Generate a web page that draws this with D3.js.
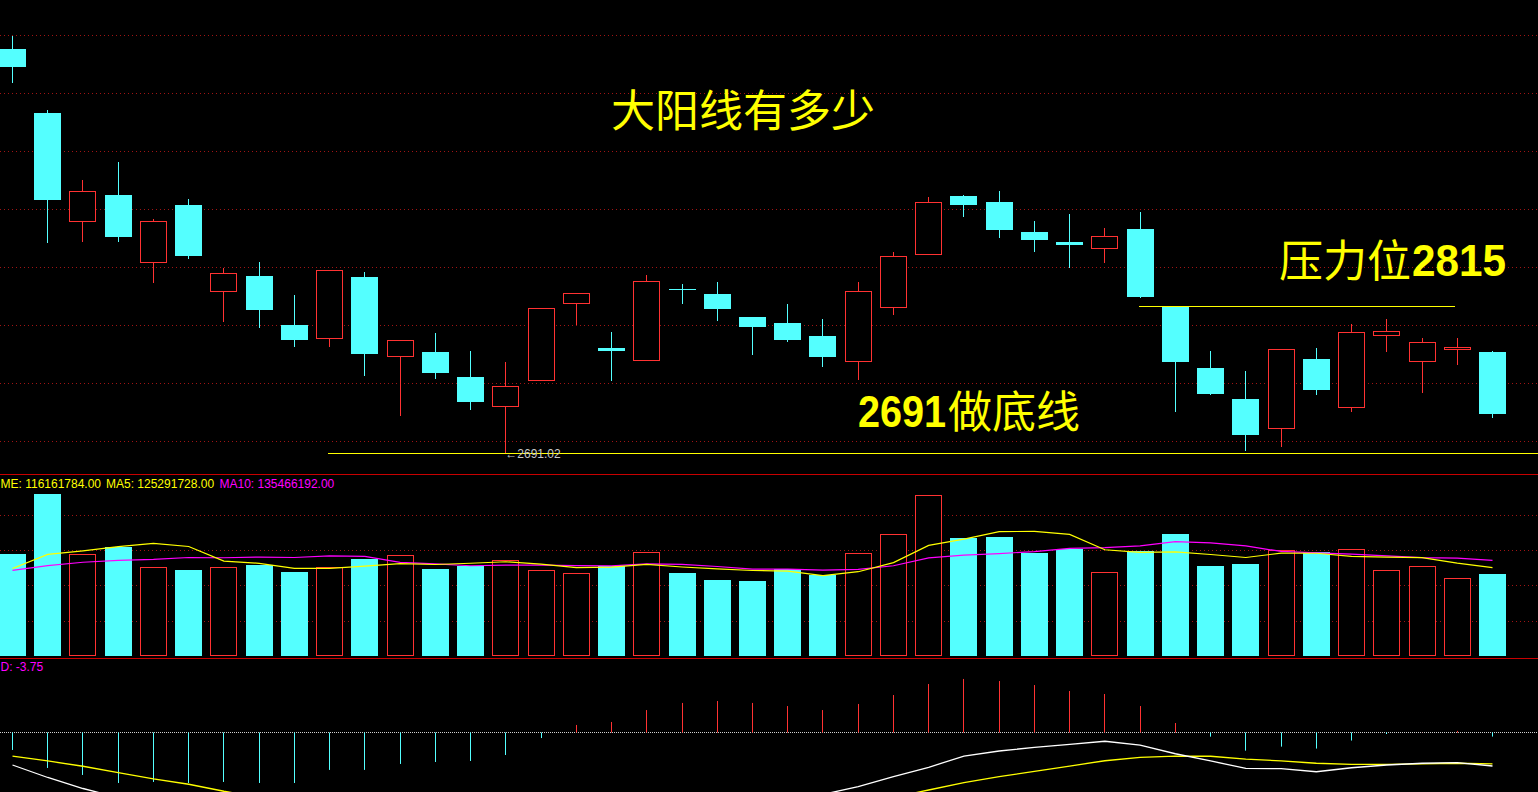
<!DOCTYPE html>
<html><head><meta charset="utf-8">
<script src="https://cdn.jsdelivr.net/npm/d3@7"></script>
<style>html,body{margin:0;padding:0;background:#000;overflow:hidden}</style>
</head><body>
<svg id="c" width="1538" height="792"></svg>
<script>
// ---------- data ----------
const opens  = [3031.3,2977.4,2886.3,2908.4,2852.3,2900.0,2827.9,2840.2,2799.0,2788.3,2839.4,2773.2,2776.3,2755.2,2731.1,2752.4,2817.8,2779.4,2769.8,2829.3,2825.1,2805.7,2800.7,2789.7,2768.9,2813.9,2859.0,2907.6,2902.5,2877.3,2868.9,2864.1,2879.8,2814.4,2762.8,2736.7,2712.0,2770.4,2729.7,2790.3,2768.4,2779.0,2776.3];
const highs  = [3042.2,2980.0,2921.0,2936.2,2888.2,2905.0,2847.2,2852.0,2824.2,2845.0,2843.6,2786.1,2792.3,2777.1,2767.8,2813.0,2825.7,2793.1,2841.1,2833.5,2835.2,2805.7,2816.7,2804.0,2835.2,2860.4,2906.7,2908.4,2911.8,2886.5,2892.4,2880.6,2894.1,2814.4,2777.1,2760.3,2778.5,2779.6,2799.8,2804.0,2788.0,2788.0,2777.1];
const lows   = [3003.8,2869.1,2869.9,2869.9,2835.4,2855.6,2802.6,2797.6,2781.6,2781.6,2757.2,2723.2,2754.6,2728.5,2691.02,2752.4,2800.1,2752.9,2769.8,2817.5,2803.2,2774.8,2785.8,2764.7,2753.5,2808.2,2859.0,2891.0,2873.1,2861.5,2847.8,2852.3,2822.8,2726.9,2741.2,2694.0,2697.4,2741.2,2726.9,2777.4,2742.8,2766.4,2721.8];
const closes = [3016.4,2904.2,2911.5,2873.1,2886.5,2857.1,2842.5,2811.6,2786.4,2845.0,2774.6,2786.1,2758.6,2734.2,2747.4,2813.0,2825.7,2777.1,2835.8,2828.7,2812.5,2797.3,2786.4,2772.1,2827.4,2856.8,2902.3,2900.2,2879.0,2870.8,2866.6,2873.6,2822.8,2768.1,2741.2,2706.7,2778.5,2744.5,2792.8,2793.9,2784.4,2780.5,2724.3];

const volumes = [144600000,229900000,144200000,154600000,125700000,121800000,125700000,129000000,119000000,125700000,
                 137500000,142700000,123300000,128000000,136100000,121400000,117200000,127100000,147000000,117600000,
                 107600000,106200000,122800000,114700000,145600000,172600000,228100000,167300000,168800000,146400000,
                 151700000,118600000,148400000,173003280,127500000,130400000,149900000,147400000,151300000,121400000,
                 127100000,110496856,116161784];
// sessions before the first visible one (only feed the moving averages)
const prevVolumes = [163900000,96200000,126600000,111700000,95600000,129900000,119200000,124600000,101700000];

const macdHist = [-15.4,-31.1,-37.2,-44.2,-43.3,-44.2,-43.3,-44.2,-44.2,-32.8,-32.8,-27.6,-25.9,-25.0,-19.8,-5.0,6.4,9.0,19.4,25.6,27.3,25.6,22.9,19.4,24.7,32.5,42.1,46.5,44.7,41.2,36.0,33.4,22.9,8.1,-3.8,-16.0,-12.5,-14.2,-7.2,-1.5,0,1.2,-3.75];
const difValues = [-28.5,-39.4,-49.0,-56.9,-61.9,-67.8,-72.8,-78.7,-84.3,-82.7,-86.8,-87.6,-90.0,-92.7,-92.6,-85.8,-79.3,-76.9,-69.2,-62.9,-58.6,-56.3,-54.7,-54.1,-47.4,-38.7,-30.5,-20.7,-16.3,-13.1,-10.5,-7.8,-11.1,-18.7,-25.0,-31.4,-31.7,-34.4,-30.9,-28.5,-27.0,-26.5,-29.4];
const deaValues = [-20.7,-25.0,-29.6,-35.2,-40.7,-45.3,-51.4,-56.6,-62.2,-66.3,-70.4,-73.8,-77.0,-80.2,-82.7,-83.3,-82.5,-81.4,-78.9,-75.7,-72.3,-69.1,-66.2,-63.8,-60.7,-56.7,-50.3,-43.9,-38.7,-34.0,-29.4,-24.8,-21.8,-20.7,-20.9,-23.3,-25.0,-27.0,-27.9,-27.9,-27.6,-27.0,-27.5];

const priceGrid  = [2701.4,2750.2,2799.0,2847.8,2896.6,2945.5,2994.3,3043.1];
const volumeGrid = [50000000,100000000,150000000,200000000];

const supportLevel = 2691.02, supportStart = 9;
const resistanceLevel = 2815, resistanceStart = 32, resistanceEnd = 41;
const lowIndex = 14;

const titleText = "大阳线有多少";
const supportText = ["2691", "做底线"];
const resistText = ["压力位", "2815"];
// legend labels exactly as far as the reference shows them (left edge clips the names)
const volLegendLabels = ["ME: ", "MA5: ", "MA10: "];
const macdLegendLabel = "D: ";

// ---------- setup ----------
const W = 1538, H = 792;
const CYAN = '#54FFFF', RED = '#FF3232', YEL = '#FFFF00', MAG = '#FF00FF';
const svg = d3.select('#c');
svg.append('rect').attr('width', W).attr('height', H).attr('fill', '#000');
const defs = svg.append('defs');
function clip(id, x, y, w, h) {
  defs.append('clipPath').attr('id', id).append('rect')
    .attr('x', x).attr('y', y).attr('width', w).attr('height', h);
}
clip('cp-price', 0, 0, W, 473);
clip('cp-vol', 0, 475, W, 183);
clip('cp-macd', 0, 659, W, 133);

const n = closes.length;
const idx = d3.range(n);
const x = d3.scaleLinear().domain([0, n - 1]).range([12.5, 1492.5]);
const bodyW = 27;
const yP = d3.scaleLinear().domain([2691.02, 2815]).range([453.3, 306]);
const yV = d3.scaleLinear().domain([0, 200000000]).range([655.7, 515]);
const yM = d3.scaleLinear().domain([-50, 50]).range([789.65, 674.95]);
const isUp = i => closes[i] >= opens[i];
const col = i => isUp(i) ? RED : CYAN;
const half = v => Math.round(v) + 0.5;
const wickX = i => Math.floor(x(i)) + 0.5;

// ---------- price panel ----------
const gP = svg.append('g').attr('clip-path', 'url(#cp-price)');
gP.selectAll('line.pgrid').data(priceGrid).join('line').attr('class', 'pgrid')
  .attr('x1', 0).attr('x2', W)
  .attr('y1', d => half(yP(d))).attr('y2', d => half(yP(d)))
  .attr('stroke', '#a01414').attr('stroke-dasharray', '1,3');

const cg = gP.selectAll('g.candle').data(idx).join('g').attr('class', 'candle');
cg.append('line')
  .attr('x1', wickX).attr('x2', wickX)
  .attr('y1', i => Math.round(yP(highs[i]))).attr('y2', i => Math.round(yP(lows[i])) + 1)
  .attr('stroke', col);
cg.append('rect')
  .attr('x', i => isUp(i) ? Math.round(x(i) - bodyW / 2) + 0.5 : Math.round(x(i) - bodyW / 2))
  .attr('width', i => isUp(i) ? bodyW - 1 : bodyW)
  .attr('y', i => { const t = Math.round(yP(Math.max(opens[i], closes[i]))); return isUp(i) ? t + 0.5 : t; })
  .attr('height', i => Math.max(1, Math.round(yP(Math.min(opens[i], closes[i]))) - Math.round(yP(Math.max(opens[i], closes[i])))))
  .attr('fill', i => isUp(i) ? '#000' : CYAN)
  .attr('stroke', i => isUp(i) ? RED : 'none');

// support & resistance
gP.append('line')
  .attr('x1', Math.round(x(supportStart)) - 2).attr('x2', W)
  .attr('y1', half(yP(supportLevel))).attr('y2', half(yP(supportLevel)))
  .attr('stroke', YEL);
gP.append('line')
  .attr('x1', Math.round(x(resistanceStart)) - 1).attr('x2', Math.round(x(resistanceEnd)) - 2)
  .attr('y1', half(yP(resistanceLevel))).attr('y2', half(yP(resistanceLevel)))
  .attr('stroke', YEL);

gP.append('text')
  .attr('x', x(lowIndex) - 0.5).attr('y', yP(lows[lowIndex]) + 4.5)
  .attr('fill', '#c8c8c8').attr('font-family', 'Liberation Sans, DejaVu Sans, sans-serif')
  .attr('font-size', 12)
  .text('←' + d3.format('.2f')(lows[lowIndex]));

const cjk = '"Noto Sans CJK SC", sans-serif';
const lat = '"Liberation Sans", Arial, sans-serif';
gP.append('text').attr('x', 611).attr('y', 127)
  .attr('fill', YEL).attr('font-family', cjk).attr('font-size', 44).text(titleText);
gP.append('text').attr('x', 858).attr('y', 427)
  .attr('fill', YEL).attr('font-family', lat).attr('font-weight', 'bold').attr('font-size', 44)
  .attr('textLength', 88).attr('lengthAdjust', 'spacingAndGlyphs').text(supportText[0]);
gP.append('text').attr('x', 948).attr('y', 428)
  .attr('fill', YEL).attr('font-family', cjk).attr('font-size', 44).text(supportText[1]);
gP.append('text').attr('x', 1279).attr('y', 277)
  .attr('fill', YEL).attr('font-family', cjk).attr('font-size', 44).text(resistText[0]);
gP.append('text').attr('x', 1412).attr('y', 276)
  .attr('fill', YEL).attr('font-family', lat).attr('font-weight', 'bold').attr('font-size', 44)
  .attr('textLength', 94).attr('lengthAdjust', 'spacingAndGlyphs').text(resistText[1]);

// ---------- volume panel ----------
const gV = svg.append('g').attr('clip-path', 'url(#cp-vol)');
gV.selectAll('line.vgrid').data(volumeGrid).join('line').attr('class', 'vgrid')
  .attr('x1', 0).attr('x2', W)
  .attr('y1', d => half(yV(d))).attr('y2', d => half(yV(d)))
  .attr('stroke', '#a01414').attr('stroke-dasharray', '1,3');
gV.selectAll('rect.vol').data(idx).join('rect').attr('class', 'vol')
  .attr('x', i => isUp(i) ? Math.round(x(i) - bodyW / 2) + 0.5 : Math.round(x(i) - bodyW / 2))
  .attr('width', i => isUp(i) ? bodyW - 1 : bodyW)
  .attr('y', i => isUp(i) ? Math.round(yV(volumes[i])) + 0.5 : Math.round(yV(volumes[i])))
  .attr('height', i => Math.round(yV(0)) - Math.round(yV(volumes[i])) - (isUp(i) ? 1 : 0))
  .attr('fill', i => isUp(i) ? '#000' : CYAN)
  .attr('stroke', i => isUp(i) ? RED : 'none');

const allVol = prevVolumes.concat(volumes);
const off = prevVolumes.length;
const ma = p => idx.map(i => d3.mean(allVol.slice(i + off - p + 1, i + off + 1)));
const ma5 = ma(5), ma10 = ma(10);
const vline = d3.line().x((d, i) => x(i)).y(d => yV(d));
gV.append('path').attr('d', vline(ma10)).attr('fill', 'none').attr('stroke', MAG).attr('stroke-width', 1.2);
gV.append('path').attr('d', vline(ma5)).attr('fill', 'none').attr('stroke', YEL).attr('stroke-width', 1.2);

const legY = 487.5;
gV.append('text').attr('x', 0.5).attr('y', legY)
  .attr('fill', YEL).attr('font-family', lat).attr('font-size', 12)
  .text(volLegendLabels[0] + volumes[n - 1].toFixed(2));
gV.append('text').attr('x', 106).attr('y', legY)
  .attr('fill', YEL).attr('font-family', lat).attr('font-size', 12)
  .text(volLegendLabels[1] + ma5[n - 1].toFixed(2));
gV.append('text').attr('x', 219.5).attr('y', legY)
  .attr('fill', MAG).attr('font-family', lat).attr('font-size', 12)
  .text(volLegendLabels[2] + ma10[n - 1].toFixed(2));

// separators
[474.5, 658.5].forEach(y => {
  svg.append('line').attr('x1', 0).attr('x2', W).attr('y1', y).attr('y2', y).attr('stroke', '#c80000');
});

// ---------- MACD panel ----------
const gM = svg.append('g').attr('clip-path', 'url(#cp-macd)');
gM.append('line').attr('x1', 0).attr('x2', W)
  .attr('y1', half(yM(0))).attr('y2', half(yM(0)))
  .attr('stroke', '#d0d0d0').attr('stroke-dasharray', '1,1');
gM.selectAll('line.hist').data(idx).join('line').attr('class', 'hist')
  .attr('x1', wickX).attr('x2', wickX)
  .attr('y1', Math.round(yM(0)) + 0.5).attr('y2', i => yM(macdHist[i]))
  .attr('stroke', i => macdHist[i] >= 0 ? RED : CYAN);
const mline = d3.line().x((d, i) => x(i)).y(d => yM(d));
gM.append('path').attr('d', mline(deaValues)).attr('fill', 'none').attr('stroke', YEL).attr('stroke-width', 1.3);
gM.append('path').attr('d', mline(difValues)).attr('fill', 'none').attr('stroke', '#ffffff').attr('stroke-width', 1.3);
gM.append('text').attr('x', 0.5).attr('y', 671)
  .attr('fill', MAG).attr('font-family', lat).attr('font-size', 12)
  .text(macdLegendLabel + macdHist[n - 1].toFixed(2));
</script>
</body></html>
